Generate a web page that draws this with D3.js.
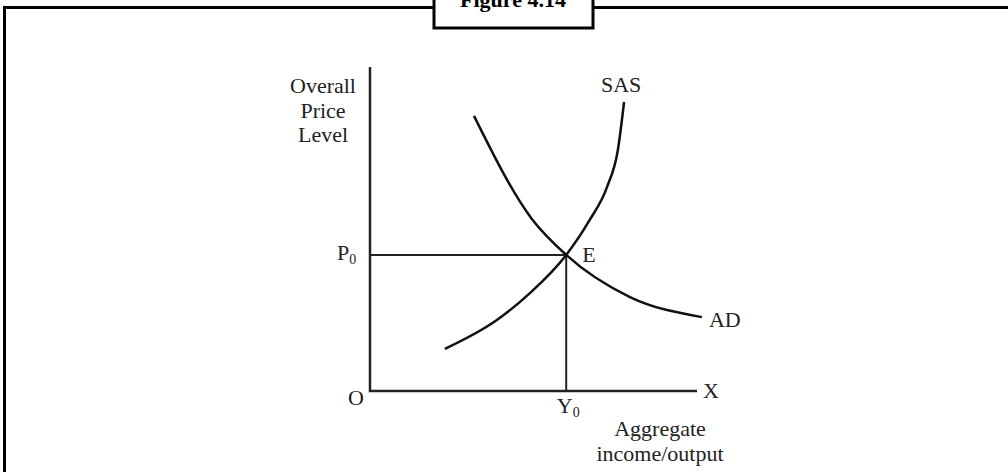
<!DOCTYPE html>
<html>
<head>
<meta charset="utf-8">
<script src="https://cdn.jsdelivr.net/npm/d3@7"></script>
<style>
  html, body { margin: 0; padding: 0; background: #fff; }
  svg { display: block; }
  text { font-family: "Liberation Serif", "DejaVu Serif", serif; fill: #222; }
</style>
</head>
<body>
<script>
// Aggregate demand / short-run aggregate supply equilibrium (schematic units)
const adCurve = [
  [3.18, 8.49], [4.95, 5.31], [6.00, 4.20], [7.95, 2.90], [10.15, 2.28]
];
const sasCurve = [
  [2.29, 1.30], [3.88, 2.19], [4.89, 3.02], [6.00, 4.20], [6.70, 5.25],
  [7.25, 6.30], [7.58, 7.44], [7.77, 8.92]
];
const equilibrium = { x: 6.0, y: 4.2 };
const axisMax = { x: 10, y: 10 };
const yAxisTitle = ["Overall", "Price", "Level"];
const xAxisTitle = ["Aggregate", "income/output"];
const figureLabel = "Figure 4.14";

const W = 1008, H = 472;
const svg = d3.select("body").append("svg").attr("width", W).attr("height", H);

const x = d3.scaleLinear().domain([0, axisMax.x]).range([370, 697]);
const y = d3.scaleLinear().domain([0, axisMax.y]).range([391, 67]);

// outer frame with caption tab
svg.append("path")
  .attr("d", `M4.5,${H} L4.5,7.5 L${W},7.5`)
  .attr("fill", "none").attr("stroke", "#000").attr("stroke-width", 3);
svg.append("rect")
  .attr("x", 434).attr("y", -5).attr("width", 159).attr("height", 33)
  .attr("fill", "#fff").attr("stroke", "#000").attr("stroke-width", 3);
svg.append("text")
  .attr("x", 513).attr("y", 7).attr("text-anchor", "middle")
  .attr("font-size", 22).attr("font-weight", "bold").style("fill", "#000")
  .text(figureLabel);

// axes
const axes = svg.append("g").attr("stroke", "#222").attr("stroke-width", 2.5).attr("fill", "none");
axes.append("path")
  .attr("d", d3.line()([[x(0), y(axisMax.y)], [x(0), y(0)], [x(axisMax.x), y(0)]]));

// guide lines from equilibrium to axes
const guides = svg.append("g").attr("stroke", "#222").attr("stroke-width", 2).attr("fill", "none");
guides.append("path").attr("d", d3.line()([[x(0), y(equilibrium.y)], [x(equilibrium.x), y(equilibrium.y)]]));
guides.append("path").attr("d", d3.line()([[x(equilibrium.x), y(equilibrium.y)], [x(equilibrium.x), y(0)]]));

// curves
const curve = d3.line().x(d => x(d[0])).y(d => y(d[1])).curve(d3.curveMonotoneX);
svg.append("path").datum(adCurve).attr("d", curve)
  .attr("fill", "none").attr("stroke", "#111").attr("stroke-width", 2.5);
svg.append("path").datum(sasCurve).attr("d", curve)
  .attr("fill", "none").attr("stroke", "#111").attr("stroke-width", 2.5);

// labels
const fs = 22;
function label(text, px, py, anchor) {
  return svg.append("text").attr("x", px).attr("y", py)
    .attr("text-anchor", anchor || "start").attr("font-size", fs).text(text);
}
const lastSas = sasCurve[sasCurve.length - 1];
label("SAS", x(lastSas[0]) - 3, y(lastSas[1]) - 10, "middle");
const lastAd = adCurve[adCurve.length - 1];
label("AD", x(lastAd[0]) + 7, y(lastAd[1]) + 10);
label("E", x(equilibrium.x) + 16, y(equilibrium.y) + 7);
label("O", x(0) - 22, y(0) + 14);
label("X", x(axisMax.x) + 6, y(0) + 7);

function subLabel(main, sub, px, py, anchor) {
  const t = svg.append("text").attr("x", px).attr("y", py)
    .attr("text-anchor", anchor || "start").attr("font-size", fs);
  t.append("tspan").text(main);
  t.append("tspan").attr("font-size", 14).attr("dy", 4).text(sub);
  return t;
}
subLabel("P", "0", x(0) - 33, y(equilibrium.y) + 5);
subLabel("Y", "0", x(equilibrium.x) + 2, y(0) + 22, "middle");

yAxisTitle.forEach((s, i) => label(s, 323, 93 + i * 24.5, "middle"));
xAxisTitle.forEach((s, i) => label(s, 660, 436 + i * 25, "middle"));
</script>
</body>
</html>
